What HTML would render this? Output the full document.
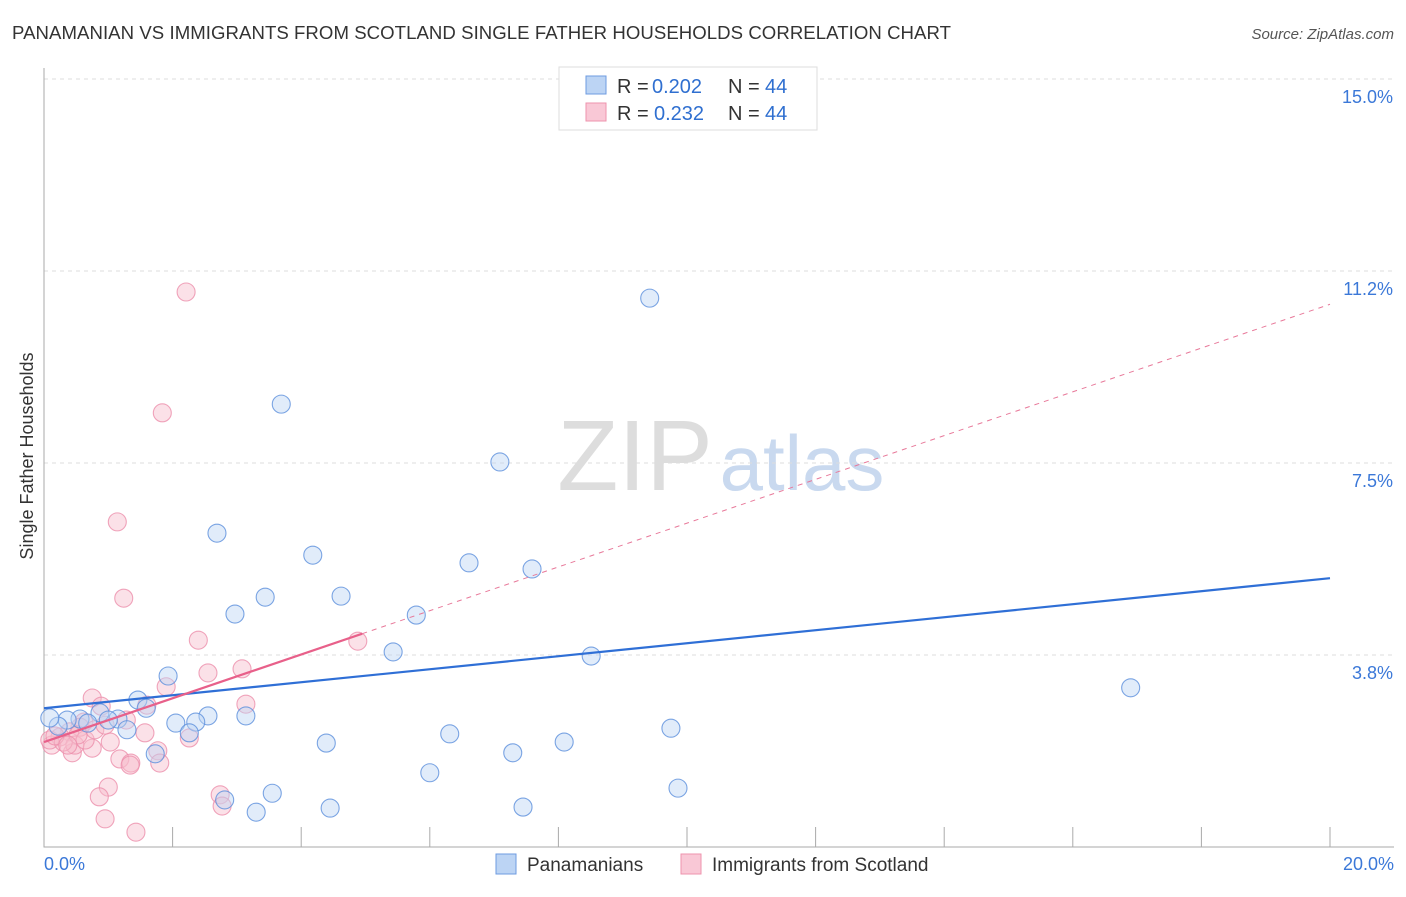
<!DOCTYPE html>
<html><head><meta charset="utf-8"><style>
body{margin:0;background:#fff;font-family:"Liberation Sans",sans-serif;}
svg text{font-family:"Liberation Sans",sans-serif;}
</style></head><body>
<svg id="c" width="1406" height="892">
<text x="12" y="39" font-size="18.6" fill="#333" textLength="939">PANAMANIAN VS IMMIGRANTS FROM SCOTLAND SINGLE FATHER HOUSEHOLDS CORRELATION CHART</text>
<text x="1394" y="39" font-size="15" fill="#555" font-style="italic" text-anchor="end">Source: ZipAtlas.com</text>
<text x="33" y="456" font-size="18" fill="#333" text-anchor="middle" transform="rotate(-90 33 456)">Single Father Households</text>
<g><text x="635" y="490" font-size="100" fill="#ddd" font-family="Liberation Serif" text-anchor="middle">ZIP</text><text x="802" y="490" font-size="78" fill="#c9d9ef" text-anchor="middle">atlas</text></g>
<g id="grid"></g><g id="axes"></g><g id="pts"></g><g id="lines"></g>
<g>
<rect x="559" y="67" width="258" height="63" fill="#fff" stroke="#ddd"/>
<rect x="586" y="76" width="20" height="18" fill="#bcd4f4" stroke="#6e9be0"/>
<rect x="586" y="103" width="20" height="18" fill="#f9c8d6" stroke="#ee93ad"/>
<text x="617" y="93" font-size="20" fill="#333">R =</text><text x="652" y="93" font-size="20" fill="#2f6fd0">0.202</text>
<text x="728" y="93" font-size="20" fill="#333">N =</text><text x="765" y="93" font-size="20" fill="#2f6fd0">44</text>
<text x="617" y="120" font-size="20" fill="#333">R =</text><text x="654" y="120" font-size="20" fill="#2f6fd0">0.232</text>
<text x="728" y="120" font-size="20" fill="#333">N =</text><text x="765" y="120" font-size="20" fill="#2f6fd0">44</text>
</g>
<g>
<rect x="496" y="854" width="20" height="20" fill="#bcd4f4" stroke="#6e9be0"/>
<text x="527" y="871" font-size="19" fill="#333">Panamanians</text>
<rect x="681" y="854" width="20" height="20" fill="#f9c8d6" stroke="#ee93ad"/>
<text x="712" y="871" font-size="19" fill="#333">Immigrants from Scotland</text>
</g>
</svg>
<script>
const yTicks=[3.75,7.5,11.25,15];
const yTickLabels=["3.8%","7.5%","11.2%","15.0%"];
const xTickLabels=["0.0%","20.0%"];
const blueX=[3.69,9.42,7.09,2.69,4.18,6.61,7.59,3.44,4.62,2.97,5.79,5.43,8.51,16.90,1.93,1.46,1.59,2.55,3.14,2.05,2.36,2.26,1.73,4.39,6.31,8.09,7.29,9.75,6.00,3.55,2.81,3.30,4.45,7.45,9.86,0.87,1.15,1.00,0.56,0.36,0.22,0.09,1.29,0.68];
const blueY=[8.65,10.72,7.52,6.13,5.70,5.55,5.43,4.88,4.90,4.55,4.53,3.81,3.73,3.11,3.34,2.87,2.71,2.56,2.56,2.42,2.44,2.23,1.82,2.03,2.21,2.05,1.84,2.32,1.45,1.05,0.92,0.68,0.76,0.78,1.15,2.62,2.50,2.48,2.50,2.48,2.36,2.52,2.29,2.42];
const pinkX=[2.21,1.84,1.14,1.24,2.40,4.88,3.08,2.55,1.90,0.75,0.89,1.60,3.14,1.28,0.62,1.03,1.77,2.26,1.57,0.75,0.44,1.18,1.35,1.34,1.80,1.00,0.86,2.74,2.77,0.95,1.43,0.56,0.40,0.25,0.12,0.09,0.48,0.30,0.17,0.64,0.53,0.37,0.79,0.95];
const pinkY=[10.84,8.48,6.35,4.86,4.04,4.02,3.48,3.40,3.13,2.91,2.75,2.77,2.79,2.48,2.44,2.05,1.88,2.13,2.23,1.93,1.84,1.72,1.64,1.60,1.64,1.17,0.98,1.02,0.80,0.55,0.29,2.34,2.25,2.15,1.99,2.09,1.99,2.05,2.17,2.09,2.19,1.99,2.29,2.38];
const blueTrend=[2.71,5.25];
const pinkTrend=[2.05,10.6];
const pinkSolidEnd=4.95;
const NS="http://www.w3.org/2000/svg";
const X=v=>44+v*64.3, Y=v=>847-v*51.2;
function mk(p,t,a){const e=document.createElementNS(NS,t);for(const k in a)e.setAttribute(k,a[k]);p.appendChild(e);return e;}
const grid=document.getElementById('grid'),axes=document.getElementById('axes'),pts=document.getElementById('pts'),lines=document.getElementById('lines');
yTicks.forEach((t,i)=>{
 const l=mk(grid,'line',{x1:44,x2:1394,y1:Y(t),y2:Y(t),stroke:'#ddd','stroke-dasharray':'4,4'});
 
 
 const tx=mk(axes,'text',{x:1393,y:Y(t)+24,'font-size':18,fill:'#3b78d8','text-anchor':'end'});
 tx.textContent=yTickLabels[i];
 
 
});
const ax=mk(axes,'path',{d:'M44 68V847H1394',fill:'none',stroke:'#aaa'});


for(let v=0;v<=20;v+=2){
 const t=mk(axes,'line',{x1:X(v),x2:X(v),y1:827,y2:847,stroke:'#aaa'});
 
 
}
[[0,'start',44],[20,'end',1394]].forEach((d,i)=>{
 const tx=mk(axes,'text',{x:d[2],y:870,'font-size':18,fill:'#3b78d8','text-anchor':d[1]});
 tx.textContent=xTickLabels[i];
 
 
});
function dots(xs,ys,fill,stroke,name){xs.forEach((x,i)=>{
 const c=mk(pts,'circle',{cx:X(x),cy:Y(ys[i]),r:9,fill:fill,'fill-opacity':0.45,stroke:stroke,'stroke-opacity':0.8,'stroke-width':1.1});
 
 
});}
dots(pinkX,pinkY,'#f7bccd','#ec8fab','scotland-point');
dots(blueX,blueY,'#bcd4f4','#5b8fdc','panamanian-point');
const bl=mk(lines,'line',{x1:X(0),y1:Y(blueTrend[0]),x2:X(20),y2:Y(blueTrend[1]),stroke:'#2f6fd6','stroke-width':2.2});


const ps=(pinkTrend[1]-pinkTrend[0])/20;
const pd=mk(lines,'line',{x1:X(pinkSolidEnd),y1:Y(pinkTrend[0]+ps*pinkSolidEnd),x2:X(20),y2:Y(pinkTrend[1]),stroke:'#e8799a','stroke-width':1,'stroke-dasharray':'5,5'});


const pl=mk(lines,'line',{x1:X(0),y1:Y(pinkTrend[0]),x2:X(pinkSolidEnd),y2:Y(pinkTrend[0]+ps*pinkSolidEnd),stroke:'#e8608a','stroke-width':2.2});


</script>
</body></html>
